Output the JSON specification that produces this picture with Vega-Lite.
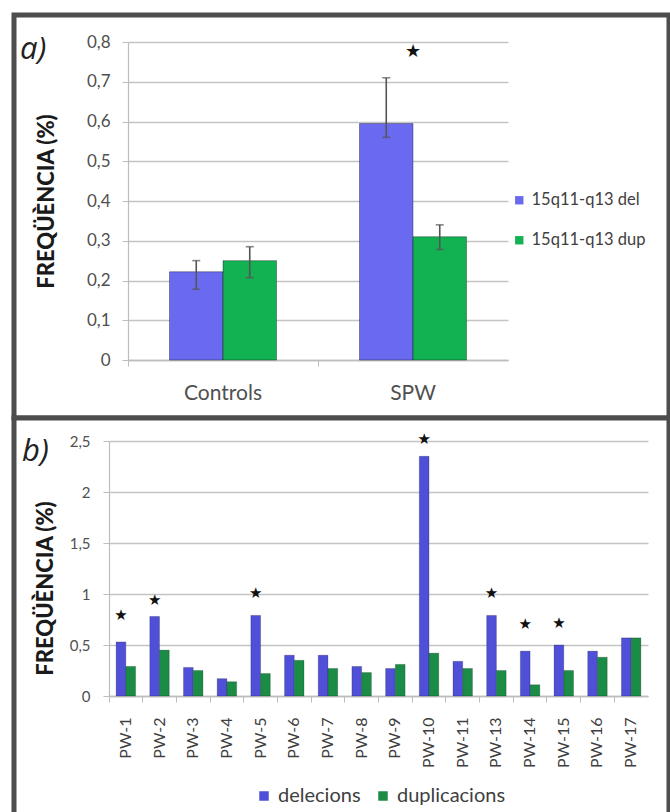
{
  "$schema": "https://vega.github.io/schema/vega-lite/v6.json",
  "padding": {"left": 11, "top": 12, "right": 0, "bottom": 0},
  "background": "white",
  "spacing": 0,
  "bounds": "flush",
  "config": {
    "font": "Lato",
    "view": {"stroke": "#4d4d4d", "strokeWidth": 5, "fill": "white"},
    "axis": {"labelFont": "Lato", "labelColor": "#505050", "titleFont": "Lato", "titleColor": "#1a1a1a", "titleFontWeight": 900, "domainColor": "#bdbdbd", "tickColor": "#bdbdbd", "gridColor": "#c4c4c4"},
    "legend": {"labelFont": "Lato", "labelColor": "#404040"}
  },
  "datasets": {
    "a": [
      {"grup": "Controls", "tipus": "15q11-q13 del", "valor": 0.222, "lo": 0.178, "hi": 0.25},
      {"grup": "Controls", "tipus": "15q11-q13 dup", "valor": 0.25, "lo": 0.207, "hi": 0.285},
      {"grup": "SPW", "tipus": "15q11-q13 del", "valor": 0.595, "lo": 0.56, "hi": 0.71},
      {"grup": "SPW", "tipus": "15q11-q13 dup", "valor": 0.31, "lo": 0.278, "hi": 0.34}
    ],
    "aStar": [
      {"grup": "SPW", "estrella": 0.775}
    ],
    "b": [
      {"pw": "PW-1", "tipusB": "delecions", "valor": 0.53}, {"pw": "PW-1", "tipusB": "duplicacions", "valor": 0.29},
      {"pw": "PW-2", "tipusB": "delecions", "valor": 0.78}, {"pw": "PW-2", "tipusB": "duplicacions", "valor": 0.45},
      {"pw": "PW-3", "tipusB": "delecions", "valor": 0.28}, {"pw": "PW-3", "tipusB": "duplicacions", "valor": 0.25},
      {"pw": "PW-4", "tipusB": "delecions", "valor": 0.17}, {"pw": "PW-4", "tipusB": "duplicacions", "valor": 0.14},
      {"pw": "PW-5", "tipusB": "delecions", "valor": 0.79}, {"pw": "PW-5", "tipusB": "duplicacions", "valor": 0.22},
      {"pw": "PW-6", "tipusB": "delecions", "valor": 0.40}, {"pw": "PW-6", "tipusB": "duplicacions", "valor": 0.35},
      {"pw": "PW-7", "tipusB": "delecions", "valor": 0.40}, {"pw": "PW-7", "tipusB": "duplicacions", "valor": 0.27},
      {"pw": "PW-8", "tipusB": "delecions", "valor": 0.29}, {"pw": "PW-8", "tipusB": "duplicacions", "valor": 0.23},
      {"pw": "PW-9", "tipusB": "delecions", "valor": 0.27}, {"pw": "PW-9", "tipusB": "duplicacions", "valor": 0.31},
      {"pw": "PW-10", "tipusB": "delecions", "valor": 2.35}, {"pw": "PW-10", "tipusB": "duplicacions", "valor": 0.42},
      {"pw": "PW-11", "tipusB": "delecions", "valor": 0.34}, {"pw": "PW-11", "tipusB": "duplicacions", "valor": 0.27},
      {"pw": "PW-13", "tipusB": "delecions", "valor": 0.79}, {"pw": "PW-13", "tipusB": "duplicacions", "valor": 0.25},
      {"pw": "PW-14", "tipusB": "delecions", "valor": 0.44}, {"pw": "PW-14", "tipusB": "duplicacions", "valor": 0.11},
      {"pw": "PW-15", "tipusB": "delecions", "valor": 0.50}, {"pw": "PW-15", "tipusB": "duplicacions", "valor": 0.25},
      {"pw": "PW-16", "tipusB": "delecions", "valor": 0.44}, {"pw": "PW-16", "tipusB": "duplicacions", "valor": 0.38},
      {"pw": "PW-17", "tipusB": "delecions", "valor": 0.57}, {"pw": "PW-17", "tipusB": "duplicacions", "valor": 0.57}
    ],
    "bStar": [
      {"pw": "PW-1", "tipusB": "delecions", "estrella": 0.79},
      {"pw": "PW-2", "tipusB": "delecions", "estrella": 0.94},
      {"pw": "PW-5", "tipusB": "delecions", "estrella": 1.01},
      {"pw": "PW-10", "tipusB": "delecions", "estrella": 2.52},
      {"pw": "PW-13", "tipusB": "delecions", "estrella": 1.01},
      {"pw": "PW-14", "tipusB": "delecions", "estrella": 0.71},
      {"pw": "PW-15", "tipusB": "delecions", "estrella": 0.72}
    ]
  },
  "resolve": {"scale": {"x": "independent", "y": "independent", "xOffset": "independent", "color": "independent"}, "legend": {"color": "independent"}},
  "vconcat": [
    {
      "width": 655,
      "height": 403,
      "title": {"text": "a)", "orient": "none", "anchor": "start", "frame": "group", "fontSize": 31, "fontStyle": "italic", "fontWeight": "normal", "font": "Open Sans", "color": "#222222", "baseline": "alphabetic", "align": "left", "offset": 0, "dx": 6, "dy": 44},
      "encoding": {
        "x": {"field": "grup", "type": "nominal", "sort": ["Controls", "SPW"], "title": null,
          "scale": {"range": [114, 494], "paddingInner": 0, "paddingOuter": 0},
          "axis": {"offset": -58, "labelAngle": 0, "labelFontSize": 21, "labelPadding": 16, "tickSize": 6, "bandPosition": 0, "domainWidth": 1.5, "grid": false}},
        "xOffset": {"field": "tipus", "type": "nominal", "scale": {"paddingOuter": 0.776, "paddingInner": 0}}
      },
      "layer": [
        {
          "data": {"name": "a"},
          "mark": {"type": "bar", "stroke": "#000000", "strokeOpacity": 0.35, "strokeWidth": 1},
          "encoding": {
            "y": {"field": "valor", "type": "quantitative", "title": "FREQÜÈNCIA (%)",
              "scale": {"domain": [0, 0.8], "range": [345, 27], "nice": false, "zero": true},
              "axis": {"offset": -114, "values": [0, 0.1, 0.2, 0.3, 0.4, 0.5, 0.6, 0.7, 0.8], "format": "~g", "labelExpr": "replace(datum.label, '.', ',')", "labelFontSize": 17, "labelPadding": 12, "tickSize": 6, "gridWidth": 1.6, "domainWidth": 1.2, "titleFontSize": 22, "titlePadding": 28}},
            "color": {"field": "tipus", "type": "nominal",
              "scale": {"domain": ["15q11-q13 del", "15q11-q13 dup"], "range": ["#6a6af0", "#12b152"]},
              "legend": {"title": null, "orient": "none", "legendX": 497, "legendY": 177, "symbolType": "square", "symbolSize": 70, "labelFontSize": 16.5, "rowPadding": 23, "symbolStrokeWidth": 0}}
          }
        },
        {
          "data": {"name": "a"},
          "mark": {"type": "rule", "color": "#555555", "strokeWidth": 1.6},
          "encoding": {"y": {"field": "lo", "type": "quantitative"}, "y2": {"field": "hi"}}
        },
        {
          "data": {"name": "a"},
          "mark": {"type": "tick", "color": "#555555", "thickness": 1.6, "size": 8},
          "encoding": {"y": {"field": "hi", "type": "quantitative"}}
        },
        {
          "data": {"name": "a"},
          "mark": {"type": "tick", "color": "#555555", "thickness": 1.6, "size": 8},
          "encoding": {"y": {"field": "lo", "type": "quantitative"}}
        },
        {
          "data": {"name": "aStar"},
          "mark": {"type": "text", "text": "★", "font": "DejaVu Sans", "fontSize": 18, "color": "#111111", "baseline": "middle"},
          "encoding": {"x": {"field": "grup", "type": "nominal"}, "xOffset": null, "y": {"field": "estrella", "type": "quantitative"}}
        }
      ]
    },
    {
      "width": 655,
      "height": 400,
      "title": {"text": "b)", "orient": "none", "anchor": "start", "frame": "group", "fontSize": 31, "fontStyle": "italic", "fontWeight": "normal", "font": "Open Sans", "color": "#222222", "baseline": "alphabetic", "align": "left", "offset": 0, "dx": 8, "dy": 43},
      "encoding": {
        "x": {"field": "pw", "type": "nominal", "sort": null, "title": null,
          "scale": {"range": [95, 634], "paddingInner": 0, "paddingOuter": 0},
          "axis": {"offset": -122, "labelAngle": -90, "labelFontSize": 16, "labelColor": "#404040", "labelPadding": 15, "tickSize": 6, "bandPosition": 0, "domainWidth": 1.5, "grid": false}},
        "xOffset": {"field": "tipusB", "type": "nominal", "scale": {"domain": ["delecions", "duplicacions"], "paddingOuter": 0.728, "paddingInner": 0}}
      },
      "layer": [
        {
          "data": {"name": "b"},
          "mark": {"type": "bar", "stroke": "#000000", "strokeOpacity": 0.25, "strokeWidth": 0.8},
          "encoding": {
            "y": {"field": "valor", "type": "quantitative", "title": "FREQÜÈNCIA (%)",
              "scale": {"domain": [0, 2.5], "range": [278, 23], "nice": false, "zero": true},
              "axis": {"offset": -95, "values": [0, 0.5, 1, 1.5, 2, 2.5], "format": "~g", "labelExpr": "replace(datum.label, '.', ',')", "labelFontSize": 15, "labelPadding": 13, "tickSize": 6, "gridWidth": 1.6, "domainWidth": 1.2, "titleFontSize": 22, "titlePadding": 12, "titleY": 170}},
            "color": {"field": "tipusB", "type": "nominal",
              "scale": {"domain": ["delecions", "duplicacions"], "range": ["#4f4fd8", "#1a8c45"]},
              "legend": {"title": null, "orient": "none", "direction": "horizontal", "legendX": 240, "legendY": 368, "symbolType": "square", "symbolSize": 90, "labelFontSize": 20, "columnPadding": 12, "symbolStrokeWidth": 0}}
          }
        },
        {
          "data": {"name": "bStar"},
          "mark": {"type": "text", "text": "★", "font": "DejaVu Sans", "fontSize": 15, "color": "#111111", "baseline": "middle"},
          "encoding": {"y": {"field": "estrella", "type": "quantitative"}}
        }
      ]
    }
  ]
}
